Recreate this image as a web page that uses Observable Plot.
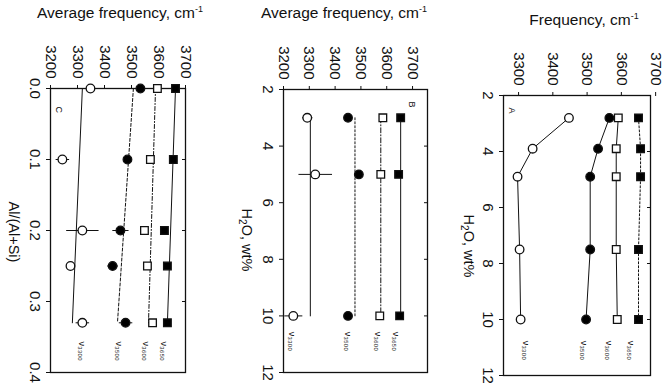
<!DOCTYPE html>
<html><head><meta charset="utf-8">
<script src="https://cdn.jsdelivr.net/npm/d3@7"></script>
<script src="https://cdn.jsdelivr.net/npm/@observablehq/plot@0.6"></script>
<style>
body{margin:0;background:#fff;font-family:"Liberation Sans",Arial,sans-serif;}
#wrap{position:relative;width:668px;height:388px;overflow:hidden;}
.panel{position:absolute;top:0;}
.title{position:absolute;font-size:15.5px;color:#111;white-space:nowrap;transform:translateX(-50%);}
.ylab{position:absolute;font-size:14.5px;color:#111;white-space:nowrap;transform:translate(-50%,-50%) rotate(90deg);}
</style></head>
<body><div id="wrap"></div>
<script>
// ---- data ----
const series = ["ν3300", "ν3500", "ν3600", "ν3650"];
const seriesLabels = ["ν₃₃₀₀", "ν₃₅₀₀", "ν₃₆₀₀", "ν₃₆₅₀"];
// Panel C: frequency vs Al/(Al+Si)
const alC = [0.0, 0.1, 0.2, 0.25, 0.33];
const c3300 = [3348, 3244, 3318, 3274, 3318];
const c3500 = [3533, 3485, 3459, 3430, 3478];
const c3600 = [3596, 3570, 3548, 3559, 3578];
const c3650 = [3663, 3655, 3622, 3633, 3633];
const cErr3300 = [10, 25, 60, 0, 25];
const cErr3500 = [0, 0, 30, 20, 25];
// fitted lines (start at Al=0.0, end at Al=0.33)
const fitAl = [0.0, 0.33];
const fit3300 = [3318, 3281];
const fit3500 = [3507, 3448];
const fit3600 = [3589, 3563];
const fit3650 = [3663, 3633];
// Panel B: average frequency vs H2O
const h2oB = [3, 5, 10];
const b3300 = [3292, 3323, 3238];
const b3500 = [3450, 3492, 3450];
const b3600 = [3585, 3577, 3573];
const b3650 = [3654, 3646, 3650];
const bErr3300 = [20, 65, 35];
const bErr3500 = [0, 15, 15];
const bAvg = [3304, 3477, 3577, 3654];
// Panel A: frequency vs H2O
const h2oA = [2.8, 3.9, 4.9, 7.5, 10];
const a3300 = [3447, 3341, 3297, 3303, 3306];
const a3500 = [3565, 3532, 3509, 3509, 3497];
const a3600 = [3591, 3585, 3585, 3585, 3588];
const a3650 = [3650, 3656, 3656, 3650, 3650];
// label positions (frequency) at panel bottoms
const labC = [3318, 3452, 3555, 3619];
const labB = [3231, 3450, 3565, 3635];
const labA = [3320, 3490, 3563, 3627];
const freqTicks = [3200, 3300, 3400, 3500, 3600, 3700];
const freqTicksA = [3300, 3400, 3500, 3600, 3700];
const alTicks = [0.0, 0.1, 0.2, 0.3, 0.4];
const h2oTicks = [2, 4, 6, 8, 10, 12];

const styles = [
  {symbol: "circle", fill: "white"},
  {symbol: "circle", fill: "black"},
  {symbol: "square", fill: "white"},
  {symbol: "square", fill: "black"}
];
const dashes = [null, "3,2", "4,2,1,2", null];

function pts(ys, vals, errs) {
  return ys.map((y, i) => ({y, f: vals[i], e: errs ? errs[i] : 0}));
}

const font = "Liberation Sans, Arial, sans-serif";
function basePlot(o) {
  return Plot.plot({
    width: o.width, height: 388,
    marginLeft: o.ml, marginRight: o.mr, marginTop: o.mt, marginBottom: o.mb,
    style: {fontFamily: font, fontSize: "12px", color: "#111", background: "transparent", overflow: "visible"},
    x: {domain: o.xdom, axis: null},
    y: {domain: o.ydom, reverse: true, axis: null},
    marks: [
      Plot.frame({stroke: "#111", strokeWidth: 1.3}),
      Plot.axisX({anchor: "top", ticks: o.xticks, tickRotate: 90, tickSize: 4, tickPadding: 6, label: null, tickFormat: d3.format("d"), fontSize: 15}),
      Plot.axisY({anchor: "left", ticks: o.yticks, tickRotate: 90, tickSize: 4, tickPadding: 6, label: null, tickFormat: o.yfmt, fontSize: 15}),
      Plot.axisY({anchor: "right", ticks: o.yticks, tickSize: -4, tickFormat: () => "", label: null}),
      ...o.marks
    ]
  });
}

function seriesMarks(ys, arrs, errs) {
  const m = [];
  arrs.forEach((vals, k) => {
    const data = pts(ys, vals, errs ? errs[k] : null);
    if (errs && errs[k]) {
      m.push(Plot.link(data.filter(d => d.e > 0), {x1: d => d.f - d.e, x2: d => d.f + d.e, y1: "y", y2: "y", stroke: "#111", strokeWidth: 1}));
    }
    m.push(Plot.dot(data, {x: "f", y: "y", symbol: styles[k].symbol, fill: styles[k].fill, stroke: "#111", strokeWidth: 1.3, r: 4.3}));
  });
  return m;
}
function labelMarks(xs, yv) {
  return [Plot.text(seriesLabels.map((s, i) => ({s, x: xs[i]})), {x: "x", y: () => yv, text: "s", rotate: 90, fontSize: 9, fill: "#111"})];
}

const wrap = document.getElementById("wrap");
function place(svg, left) {
  const d = document.createElement("div");
  d.className = "panel"; d.style.left = left + "px";
  d.appendChild(svg); wrap.appendChild(d);
}
function addText(cls, html, x, y) {
  const d = document.createElement("div");
  d.className = cls; d.innerHTML = html;
  d.style.left = x + "px"; d.style.top = y + "px";
  wrap.appendChild(d);
}

// Panel C
const fits = [fit3300, fit3500, fit3600, fit3650];
const marksC = [
  ...fits.map((f, k) => Plot.line(fitAl.map((a, i) => ({a, f: f[i]})), {x: "f", y: "a", stroke: "#111", strokeWidth: 1, strokeDasharray: dashes[k]})),
  ...seriesMarks(alC, [c3300, c3500, c3600, c3650], [cErr3300, cErr3500, null, null]),
  ...labelMarks(labC, 0.37),
  Plot.text(["C"], {frameAnchor: "top-left", dx: 12, dy: 18, text: d => d, rotate: 90, fontSize: 9})
];
place(basePlot({width: 215, ml: 50, mr: 30, mt: 88, mb: 16, xdom: [3200, 3700], ydom: [0, 0.4], xticks: freqTicks, yticks: alTicks, yfmt: d3.format(".1f"), marks: marksC}), 0);

// Panel B
const bArrs = [b3300, b3500, b3600, b3650];
const marksB = [
  ...bAvg.map((v, k) => Plot.line([h2oB[0], h2oB[2]].map(h => ({h, f: v})), {x: "f", y: "h", stroke: "#111", strokeWidth: 1, strokeDasharray: k === 1 ? "2,2" : (k === 2 ? "5,2,1,2" : null)})),
  ...seriesMarks(h2oB, bArrs, [bErr3300, bErr3500, null, null]),
  ...labelMarks(labB, 10.9),
  Plot.text(["B"], {frameAnchor: "top-right", dx: -12, dy: 18, text: d => d, rotate: 90, fontSize: 9})
];
place(basePlot({width: 220, ml: 63, mr: 13, mt: 89, mb: 16, xdom: [3200, 3758], ydom: [2, 12], xticks: freqTicks, yticks: h2oTicks, yfmt: d3.format("d"), marks: marksB}), 220);

// Panel A
const aArrs = [a3300, a3500, a3600, a3650];
const marksA = [
  ...aArrs.map((vals, k) => Plot.line(h2oA.map((h, i) => ({h, f: vals[i]})), {x: "f", y: "h", stroke: "#111", strokeWidth: 1, strokeDasharray: k === 3 ? "2,2" : null})),
  ...seriesMarks(h2oA, aArrs, null),
  ...labelMarks(labA, 11.1),
  Plot.text(["A"], {frameAnchor: "top-left", dx: 12, dy: 12, text: d => d, rotate: 90, fontSize: 9})
];
place(basePlot({width: 228, ml: 63, mr: 18, mt: 95, mb: 13, xdom: [3256, 3685], ydom: [2, 12], xticks: freqTicksA, yticks: h2oTicks, yfmt: d3.format("d"), marks: marksA}), 440);

// Titles and axis labels
addText("title", "Average frequency, cm<sup style='font-size:9px'>-1</sup>", 120, 4);
addText("title", "Average frequency, cm<sup style='font-size:9px'>-1</sup>", 344, 4);
addText("title", "Frequency, cm<sup style='font-size:9px'>-1</sup>", 584, 11);
addText("ylab", "Al/(Al+Si)", 14, 232);
addText("ylab", "H<sub style='font-size:10px'>2</sub>O, wt%", 246, 240);
addText("ylab", "H<sub style='font-size:10px'>2</sub>O, wt%", 468, 246);
</script></body></html>
